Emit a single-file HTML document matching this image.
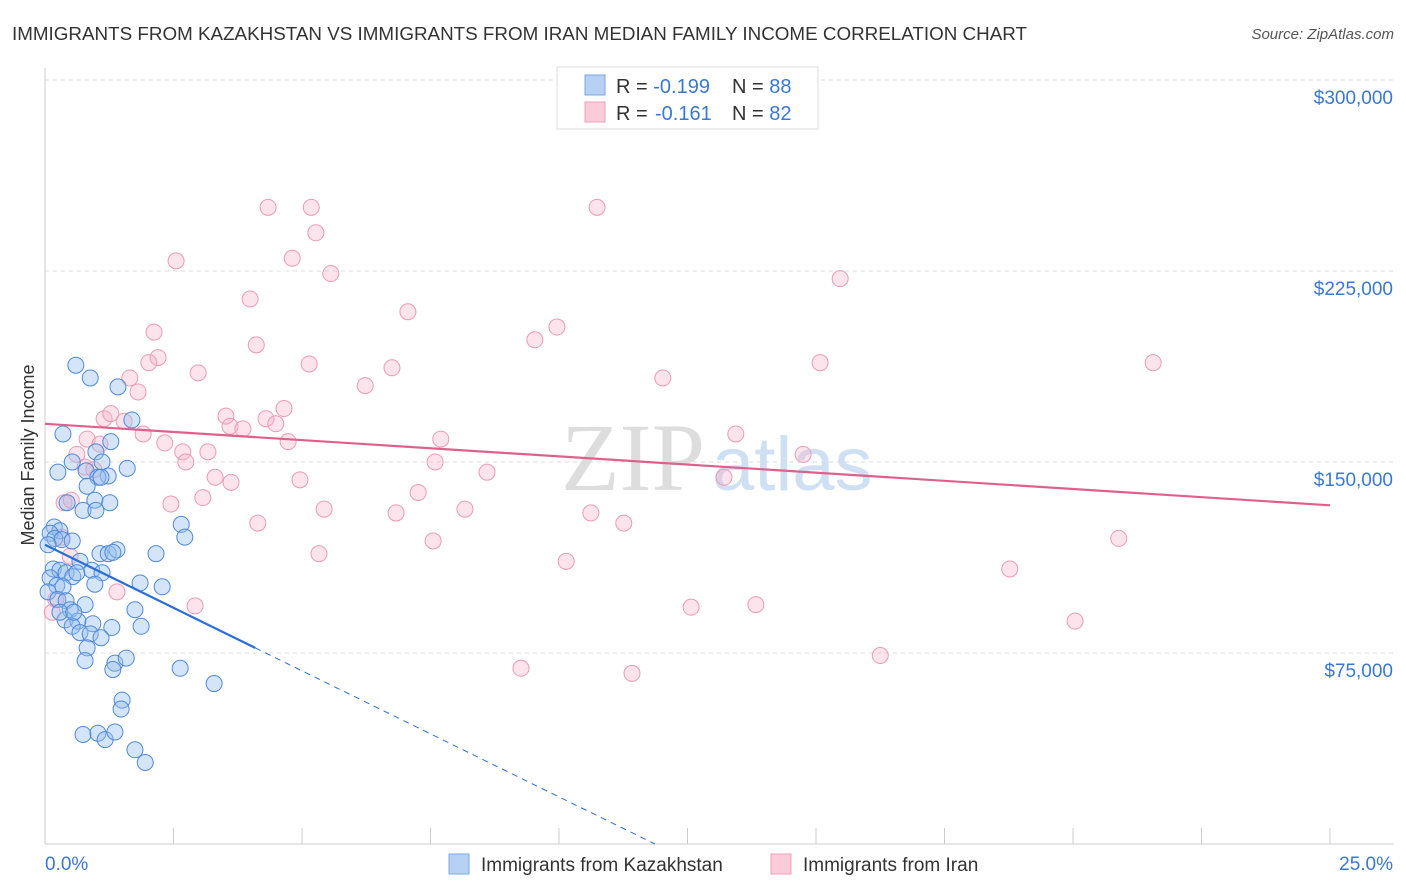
<!DOCTYPE html>
<html><head><meta charset="utf-8"><style>
body{margin:0;background:#fff;font-family:"Liberation Sans",sans-serif;}
svg{display:block}
</style></head><body>
<svg id="chart" width="1406" height="892" xmlns="http://www.w3.org/2000/svg">
<text x="12" y="40" font-size="18" fill="#333" textLength="1015" lengthAdjust="spacingAndGlyphs">IMMIGRANTS FROM KAZAKHSTAN VS IMMIGRANTS FROM IRAN MEDIAN FAMILY INCOME CORRELATION CHART</text>
<text x="1394" y="39" font-size="15" fill="#555" text-anchor="end" font-style="italic">Source: ZipAtlas.com</text>
<text x="705" y="490" font-size="96" fill="#ddd" font-family="Liberation Serif" text-anchor="end">ZIP</text>
<text x="712" y="490" font-size="76" fill="#cfe0f3">atlas</text>
<text transform="translate(34,455) rotate(-90)" font-size="18" fill="#333" text-anchor="middle">Median Family Income</text>
<g id="grid"></g><g id="marks"></g><g id="lines"></g>
<g>
<rect x="557" y="67" width="261" height="62" fill="#fff" stroke="#ddd"/>
<rect x="585" y="75" width="20" height="20" fill="#b7d1f4" stroke="#7aa7e6"/>
<rect x="585" y="102" width="20" height="20" fill="#fbcbd9" stroke="#eea0b8"/>
<text x="616" y="93" font-size="20" fill="#333">R = <tspan fill="#3a78d4">-0.199</tspan><tspan x="732">N = </tspan><tspan fill="#3a78d4">88</tspan></text>
<text x="616" y="120" font-size="20" fill="#333">R = <tspan x="655" fill="#3a78d4">-0.161</tspan><tspan x="732">N = </tspan><tspan fill="#3a78d4">82</tspan></text>
</g>
<g>
<rect x="449" y="854" width="20" height="20" fill="#b7d1f4" stroke="#7aa7e6"/>
<text x="481" y="871" font-size="19" fill="#333">Immigrants from Kazakhstan</text>
<rect x="771" y="854" width="20" height="20" fill="#fbcbd9" stroke="#eea0b8"/>
<text x="803" y="871" font-size="19" fill="#333">Immigrants from Iran</text>
</g>
</svg>
<script>
const xTicks=[0,2.5,5,7.5,10,12.5,15,17.5,20,22.5,25];
const yTicks=[75000,150000,225000,300000];
const yTickLabels=["$75,000","$150,000","$225,000","$300,000"];
const xEndLabels=["0.0%","25.0%"];
const blueX=[0.60,0.88,1.42,0.35,1.69,1.28,0.99,1.11,0.53,0.25,0.80,1.60,1.23,1.03,0.82,1.09,0.43,0.97,1.26,0.74,0.99,2.65,2.72,0.18,0.29,0.10,0.19,0.33,0.53,0.06,1.07,1.23,1.40,1.32,2.16,0.68,0.16,0.29,0.41,0.54,0.62,0.91,1.11,0.10,0.23,0.35,0.97,1.85,2.28,0.06,0.25,0.41,0.78,0.49,1.75,0.39,0.64,0.93,0.53,1.30,1.87,0.68,0.88,1.09,0.82,0.78,1.36,1.58,1.32,2.63,3.29,1.50,1.48,0.74,1.03,1.17,1.36,1.75,1.95,0.29,0.56];
const blueY=[188,183,179.5,161,166.5,158,154,150,150,146,146.5,147.5,144.5,144,140.5,144,134,135,134,131,131,125.5,120.5,124.5,123,122,120,119.5,119,117.5,114,114,115.5,114.5,114,111,108,107.5,106.5,105,106.5,107.5,106.5,104.5,101.5,101,102,102.5,101,99,96,95.5,94,92,92,88,87.5,86.5,85.5,85,85.5,83,82.5,81,77,72,71,73,68.5,69,63,56.5,53,43,43.5,41,44,37,32,91,91];
const pinkX=[4.34,5.18,10.74,5.27,4.81,2.55,5.56,15.47,3.99,7.06,9.96,9.53,2.12,4.11,2.20,2.02,5.14,15.08,21.56,6.75,2.98,1.65,6.23,12.02,1.81,4.65,1.15,1.28,3.52,4.30,4.49,1.54,3.60,3.85,1.91,0.82,2.33,1.07,4.73,7.70,13.44,2.68,3.17,0.62,2.74,7.59,14.75,0.78,0.95,3.31,13.21,8.60,3.62,4.96,7.26,3.07,0.37,0.51,2.45,4.14,5.43,6.83,8.17,10.62,11.26,0.33,7.55,20.89,5.33,10.14,18.77,1.40,2.92,12.57,13.83,20.04,16.25,9.26,11.42,0.14,0.21,0.49];
const pinkY=[250,250,250,240,230,229,224,222,214,209,203,198,201,196,191,189,188.5,189,189,187,185,183,180,183,177.5,171,167,169,168,167,165,166,164,163,161,159,157.5,157,158,159,161,154,154,153,150,150,153,148,147,144,144,146,142,143,138,136,134,135,133.5,126,131.5,130,131.5,130,126,120.5,119,120,114,111,108,99,93.5,93,94,87.5,74,69,67,91,96,113];
const trendPink=[165,133];   // $k at 0% and 25%
const trendBlue=[117.5,-9.9]; // intercept $k, slope $k per %
const X0=45,X1=1330,Y0=844,YT=80;
const sx=p=>X0+(p/25)*(X1-X0);
const sy=v=>Y0-(v/300000)*(Y0-YT);
const NS="http://www.w3.org/2000/svg";
function mk(tag,attrs,parent){const e=document.createElementNS(NS,tag);for(const k in attrs)e.setAttribute(k,attrs[k]);parent.appendChild(e);return e;}
const grid=document.getElementById('grid');
yTicks.forEach((v,i)=>{
  const l=mk('line',{x1:X0,x2:1394,y1:sy(v),y2:sy(v),stroke:'#ddd','stroke-dasharray':'4,4'},grid);
  
  
  const t=mk('text',{x:1393,y:sy(v)+24,'font-size':19,fill:'#3a78d4','text-anchor':'end'},grid);
  t.textContent=yTickLabels[i];
  
  
});
const ax=mk('line',{x1:X0,x2:X0,y1:68,y2:Y0,stroke:'#ccc'},grid);


const bx=mk('line',{x1:X0,x2:1394,y1:Y0,y2:Y0,stroke:'#ccc'},grid);


xTicks.forEach(p=>{
  const t=mk('line',{x1:sx(p),x2:sx(p),y1:Y0,y2:Y0-16,stroke:'#ccc'},grid);
  
  
});
[[X0,'start'],[1393,'end']].forEach((d,i)=>{
  const t=mk('text',{x:d[0],y:870,'font-size':19,fill:'#3a78d4','text-anchor':d[1]},grid);
  t.textContent=xEndLabels[i];
  
  
});
const marks=document.getElementById('marks');
pinkX.forEach((p,i)=>{
  const c=mk('circle',{cx:sx(p),cy:sy(pinkY[i]*1000),r:8,fill:'rgba(247,176,200,0.35)',stroke:'#ec9bb6','stroke-width':1},marks);
  
  
});
blueX.forEach((p,i)=>{
  const c=mk('circle',{cx:sx(p),cy:sy(blueY[i]*1000),r:8,fill:'rgba(150,190,240,0.4)',stroke:'#4f8ad9','stroke-width':1},marks);
  
  
});
const lines=document.getElementById('lines');
const pl=mk('line',{x1:sx(0),y1:sy(trendPink[0]*1000),x2:sx(25),y2:sy(trendPink[1]*1000),stroke:'#e0608d','stroke-width':2.2},lines);


const bEnd=4.09, bZero=-trendBlue[0]/trendBlue[1];
const bl=mk('line',{x1:sx(0),y1:sy(trendBlue[0]*1000),x2:sx(bEnd),y2:sy((trendBlue[0]+trendBlue[1]*bEnd)*1000),stroke:'#2a6fd6','stroke-width':2.2},lines);


const bd=mk('line',{x1:sx(bEnd),y1:sy((trendBlue[0]+trendBlue[1]*bEnd)*1000),x2:sx(bZero),y2:sy(0),stroke:'#2a6fd6','stroke-width':1,'stroke-dasharray':'6,5'},lines);


</script>
</body></html>
